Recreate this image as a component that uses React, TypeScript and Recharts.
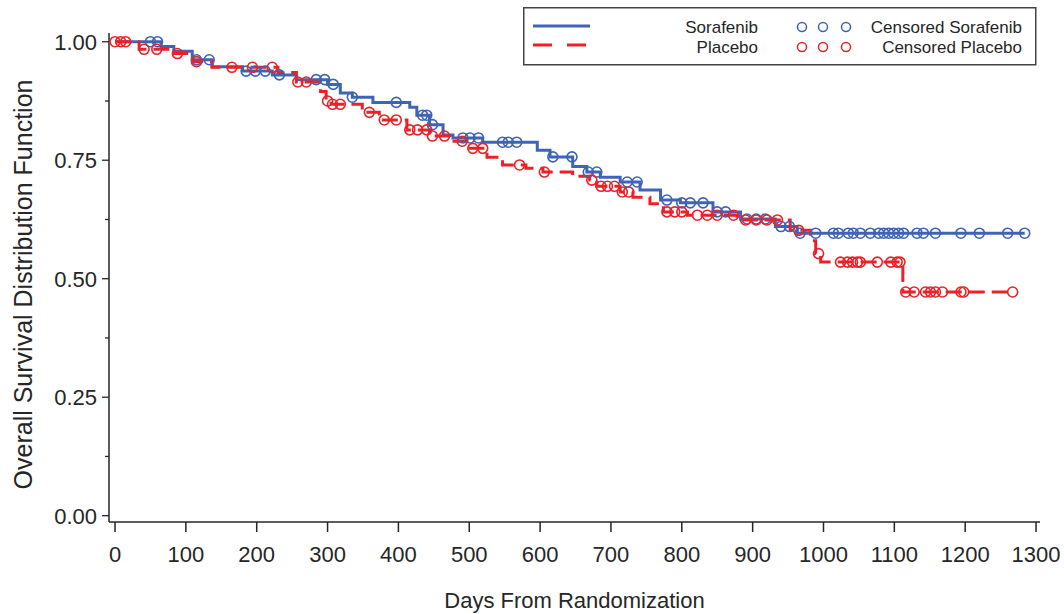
import React from 'react'
import {
  ComposedChart, Line, Scatter, XAxis, YAxis, Legend, Label,
} from 'recharts'

const BLUE = '#3f64b6'
const RED = '#ec2128'
const INK = '#262626'
const FONT = '"Liberation Sans", Arial, sans-serif'

// Kaplan-Meier steps (day, survival)
const sorafenibDays = [0, 65, 83, 109, 137, 180, 222, 256, 300, 318, 335, 364, 416, 426, 444, 463, 477, 519, 596, 614, 646, 666, 685, 713, 741, 770, 798, 844, 883, 932, 963, 1284]
const sorafenibSurv = [1.0, 0.99, 0.98, 0.962, 0.947, 0.938, 0.93, 0.92, 0.91, 0.892, 0.883, 0.872, 0.862, 0.845, 0.825, 0.803, 0.797, 0.788, 0.771, 0.757, 0.737, 0.725, 0.714, 0.704, 0.687, 0.666, 0.66, 0.641, 0.626, 0.61, 0.596, 0.596]

const placeboDays = [0, 34, 80, 110, 137, 230, 256, 290, 298, 305, 349, 373, 412, 444, 472, 501, 525, 547, 580, 604, 646, 670, 680, 713, 731, 755, 774, 808, 878, 953, 982, 989, 996, 1112, 1267]
const placeboSurv = [1.0, 0.984, 0.975, 0.958, 0.946, 0.935, 0.915, 0.895, 0.875, 0.868, 0.851, 0.835, 0.814, 0.801, 0.79, 0.775, 0.756, 0.74, 0.733, 0.725, 0.716, 0.708, 0.695, 0.683, 0.672, 0.658, 0.641, 0.634, 0.624, 0.602, 0.58, 0.553, 0.535, 0.472, 0.472]

// censored observations
const sorafenibCensorDays = [50, 60, 115, 133, 185, 198, 212, 232, 284, 296, 308, 335, 397, 434, 440, 448, 491, 501, 513, 547, 555, 567, 618, 645, 668, 680, 723, 737, 779, 800, 812, 830, 850, 862, 892, 905, 918, 940, 952, 967, 989, 1014, 1021, 1035, 1042, 1052, 1066, 1078, 1085, 1092, 1099, 1106, 1113, 1132, 1141, 1158, 1194, 1220, 1260, 1284]
const sorafenibCensorSurv = [1.0, 1.0, 0.962, 0.962, 0.938, 0.938, 0.938, 0.93, 0.92, 0.92, 0.91, 0.883, 0.872, 0.845, 0.845, 0.825, 0.797, 0.797, 0.797, 0.788, 0.788, 0.788, 0.757, 0.757, 0.725, 0.725, 0.704, 0.704, 0.666, 0.66, 0.66, 0.66, 0.641, 0.641, 0.626, 0.626, 0.626, 0.61, 0.61, 0.596, 0.596, 0.596, 0.596, 0.596, 0.596, 0.596, 0.596, 0.596, 0.596, 0.596, 0.596, 0.596, 0.596, 0.596, 0.596, 0.596, 0.596, 0.596, 0.596, 0.596]

const placeboCensorDays = [0, 8, 15, 41, 59, 88, 115, 165, 194, 222, 258, 270, 300, 307, 318, 359, 380, 397, 416, 427, 440, 448, 465, 490, 505, 519, 571, 606, 673, 686, 695, 705, 716, 725, 779, 790, 800, 822, 836, 850, 873, 890, 905, 920, 935, 965, 993, 1024, 1034, 1041, 1048, 1052, 1076, 1095, 1104, 1108, 1116, 1128, 1144, 1151, 1158, 1168, 1194, 1198, 1267]
const placeboCensorSurv = [1.0, 1.0, 1.0, 0.984, 0.984, 0.975, 0.958, 0.946, 0.946, 0.946, 0.915, 0.915, 0.875, 0.868, 0.868, 0.851, 0.835, 0.835, 0.814, 0.814, 0.814, 0.801, 0.801, 0.79, 0.775, 0.775, 0.74, 0.725, 0.708, 0.695, 0.695, 0.695, 0.683, 0.683, 0.641, 0.641, 0.641, 0.634, 0.634, 0.634, 0.634, 0.624, 0.624, 0.624, 0.624, 0.602, 0.553, 0.535, 0.535, 0.535, 0.535, 0.535, 0.535, 0.535, 0.535, 0.535, 0.472, 0.472, 0.472, 0.472, 0.472, 0.472, 0.472, 0.472, 0.472]

const xTicks = [0, 100, 200, 300, 400, 500, 600, 700, 800, 900, 1000, 1100, 1200, 1300]
const yTicks = [0, 0.125, 0.25, 0.375, 0.5, 0.625, 0.75, 0.875, 1]

const pair = (days: number[], surv: number[]) => days.map((d, i) => ({ day: d, s: surv[i] }))

const sorafenibLine = pair(sorafenibDays, sorafenibSurv)
const placeboLine = pair(placeboDays, placeboSurv)
const sorafenibCensor = pair(sorafenibCensorDays, sorafenibCensorSurv)
const placeboCensor = pair(placeboCensorDays, placeboCensorSurv)

const ring = (color: string) => (p: any) => (
  <circle cx={p.cx} cy={p.cy} r={5} fill="none" stroke={color} strokeWidth={1.6} />
)

const YTick = (props: any) => {
  const { x, y, payload } = props
  const v = payload.value
  const major = Math.round(v * 8) % 2 === 0
  const axisX = x + 12
  return (
    <g>
      <line x1={axisX - (major ? 7 : 4)} x2={axisX} y1={y} y2={y} stroke={INK} strokeWidth={1.3} />
      {major && (
        <text x={x} y={y + 8} textAnchor="end" fontSize={22} fill={INK} fontFamily={FONT}>
          {v.toFixed(2)}
        </text>
      )}
    </g>
  )
}

function LegendBox() {
  const txt = { fontSize: 17, fill: INK, fontFamily: FONT }
  return (
    <svg width={514} height={60}>
      <rect x={0.75} y={0.75} width={512} height={57} fill="#fff" stroke="#444" strokeWidth={1.5} />
      <line x1={10} x2={67} y1={19} y2={19} stroke={BLUE} strokeWidth={3} />
      <line x1={10} x2={67} y1={38} y2={38} stroke={RED} strokeWidth={3} strokeDasharray="19 15" />
      <text x={235} y={26} textAnchor="end" {...txt}>Sorafenib</text>
      <text x={235} y={46} textAnchor="end" {...txt}>Placebo</text>
      {[279, 300, 323].map((cx) => (
        <circle key={'b' + cx} cx={cx} cy={20} r={4.5} fill="none" stroke={BLUE} strokeWidth={1.5} />
      ))}
      {[279, 300, 323].map((cx) => (
        <circle key={'r' + cx} cx={cx} cy={40} r={4.5} fill="none" stroke={RED} strokeWidth={1.5} />
      ))}
      <text x={499} y={26} textAnchor="end" {...txt}>Censored Sorafenib</text>
      <text x={499} y={46} textAnchor="end" {...txt}>Censored Placebo</text>
    </svg>
  )
}

export default function App() {
  return (
    <div style={{ position: 'absolute', left: 0, top: 0, background: '#fff' }}>
      <ComposedChart
        width={1064}
        height={614}
        margin={{ top: 33, right: 24, bottom: 32, left: 0 }}
      >
        <XAxis
          type="number"
          dataKey="day"
          domain={[-8.5, 1305.6]}
          allowDataOverflow
          ticks={xTicks}
          interval={0}
          height={60}
          stroke={INK}
          strokeWidth={1.5}
          tickSize={10}
          tickMargin={14}
          tick={{ fontSize: 22, fill: INK, fontFamily: FONT }}
        >
          <Label
            content={(p: any) => {
              const vb = p.viewBox
              return (
                <text x={vb.x + vb.width / 2} y={608} textAnchor="middle" fontSize={22} fill={INK} fontFamily={FONT}>
                  Days From Randomization
                </text>
              )
            }}
          />
        </XAxis>
        <YAxis
          type="number"
          dataKey="s"
          domain={[-0.0133, 1.0184]}
          allowDataOverflow
          ticks={yTicks}
          interval={0}
          width={109}
          stroke={INK}
          strokeWidth={1.5}
          tickLine={false}
          tickSize={7}
          tickMargin={5}
          tick={<YTick />}
        >
          <Label
            content={(p: any) => {
              const vb = p.viewBox
              const cy = vb.y + vb.height / 2 + 7
              return (
                <text
                  x={32}
                  y={cy}
                  transform={`rotate(-90 32 ${cy})`}
                  textAnchor="middle"
                  fontSize={25}
                  fill={INK}
                  fontFamily={FONT}
                >
                  Overall Survival Distribution Function
                </text>
              )
            }}
          />
        </YAxis>
        <Legend
          layout="vertical"
          align="center"
          verticalAlign="middle"
          wrapperStyle={{ left: 523, top: 7, width: 514, height: 60 }}
          content={() => <LegendBox />}
        />
        <Line
          data={sorafenibLine}
          dataKey="s"
          type="stepAfter"
          stroke={BLUE}
          strokeWidth={3}
          dot={false}
          activeDot={false}
          isAnimationActive={false}
          legendType="none"
        />
        <Scatter
          data={sorafenibCensor}
          dataKey="s"
          shape={ring(BLUE)}
          isAnimationActive={false}
          legendType="none"
        />
        <Line
          data={placeboLine}
          dataKey="s"
          type="stepAfter"
          stroke={RED}
          strokeWidth={3}
          strokeDasharray="16 7"
          dot={false}
          activeDot={false}
          isAnimationActive={false}
          legendType="none"
        />
        <Scatter
          data={placeboCensor}
          dataKey="s"
          shape={ring(RED)}
          isAnimationActive={false}
          legendType="none"
        />
      </ComposedChart>
    </div>
  )
}
